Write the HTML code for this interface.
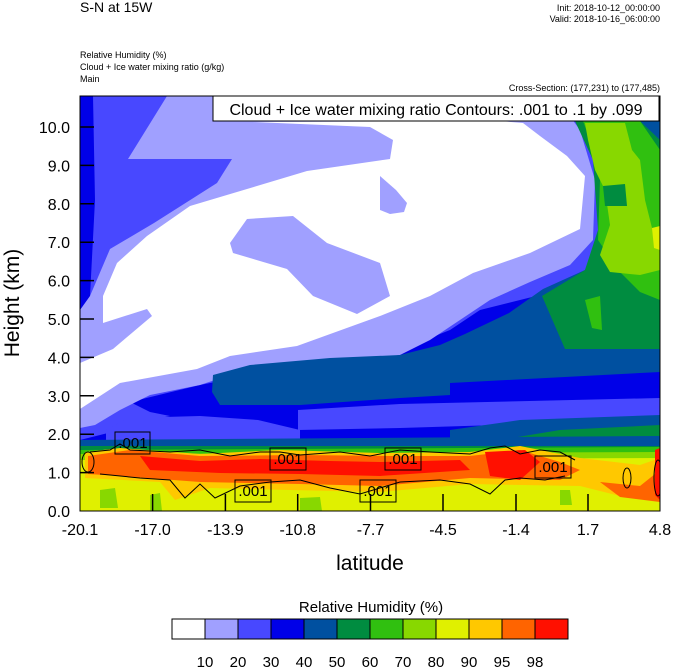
<!DOCTYPE html>
<html><head><style>
body{margin:0;background:#fff;}
svg{display:block;font-family:"Liberation Sans",sans-serif;}
</style></head><body>
<svg width="674" height="668" viewBox="0 0 674 668" xmlns="http://www.w3.org/2000/svg">
<defs><clipPath id="c"><rect x="80" y="96" width="580" height="415"/></clipPath></defs>
<g clip-path="url(#c)">
<rect x="80" y="96" width="580" height="415" fill="#0000e8"/>
<path fill="#4848ff" d="M93,96 L560,96 L600,150 L600,250 L580,290 L540,310 L500,330 L470,345 L430,365 L400,380 L300,395 L250,405 L200,410 L150,420 L120,430 L80,440 L80,330 L90,296 L95,200Z"/>
<path fill="#0000e8" d="M130,402 L200,385 L300,365 L400,350 L450,330 L480,310 L540,295 L660,300 L660,420 L400,418 L300,422 L200,422 L150,412Z"/>
<path fill="#4848ff" d="M106,430 L128,418 L200,416 L258,420 L300,430 L300,443 L106,443Z"/>
<path fill="#a0a0ff" d="M167,96 L555,96 L580,130 L595,180 L593,240 L570,265 L530,282 L490,300 L460,320 L430,340 L400,355 L350,362 L290,366 L230,375 L200,385 L150,395 L120,410 L95,425 L80,428 L80,310 L90,296 L110,249 L154,223 L217,183 L232,159 L128,159Z"/>
<path fill="#fff" d="M253,122 L500,121 L523,123 L540,136 L567,156 L585,176 L580,229 L530,253 L473,273 L430,296 L380,316 L297,346 L230,356 L197,369 L120,383 L80,409 L80,363 L113,349 L152,316 L147,309 L103,323 L103,296 L117,263 L147,236 L190,206 L247,189 L307,171 L390,159 L393,140 L370,127 Z"/>
<path fill="#a0a0ff" d="M233,253 L230,243 L247,219 L293,216 L327,243 L380,263 L390,296 L357,314 L313,296 L287,269Z"/>
<path fill="#a0a0ff" d="M380,176 L396,190 L407,203 L404,212 L390,214 L380,210Z"/>
<path fill="#0050a0" d="M552,96 L660,96 L660,383 L600,385 L520,390 L450,395 L400,398 L300,405 L220,405 L212,392 L213,375 L250,365 L330,358 L400,355 L440,345 L465,334 L509,313 L543,289 L585,270 L600,230 L598,170 L575,118Z"/>
<path fill="#0000e8" d="M450,383 L660,372 L660,392 L450,398Z"/>
<path fill="#4848ff" d="M298,410 L400,404 L660,398 L660,420 L400,428 L298,430Z"/>
<path fill="#0050a0" d="M450,430 L520,420 L660,415 L660,446 L450,446Z"/>
<path fill="#008c40" d="M500,440 L560,430 L660,425 L660,446 L500,446Z"/>
<path fill="#0050a0" d="M80,440 L660,436 L660,448 L80,448Z"/>
<!-- greens right -->
<path fill="#008c40" d="M567,121 L640,121 L660,140 L660,349 L565,349 L542,296 L585,270 L598,230 L593,160 L575,121Z"/>
<path fill="#30c010" d="M583,121 L640,121 L660,150 L660,300 L640,292 L620,272 L598,240 L600,180 L590,140Z"/>
<path fill="#30c010" d="M585,300 L600,296 L602,330 L592,328Z"/>
<path fill="#88d800" d="M585,123 L625,123 L632,150 L640,160 L645,200 L652,228 L660,238 L660,270 L640,275 L610,272 L600,255 L610,225 L605,190 L595,170 L588,140Z"/>
<path fill="#e0f000" d="M652,228 L660,226 L660,250 L654,248Z"/>
<path fill="#008c40" d="M603,186 L625,184 L627,206 L605,206Z"/>
<!-- bottom band -->
<rect x="80" y="446" width="580" height="65" fill="#008c40"/>
<path fill="#30c010" d="M80,450 L660,447 L660,511 L80,511Z"/>
<path fill="#88d800" d="M80,454 L660,452 L660,511 L80,511Z"/>
<path fill="#e0f000" d="M80,460 L660,458 L660,511 L80,511Z"/>
<path fill="#88d800" d="M100,490 L115,488 L118,508 L100,508Z M150,495 L160,493 L162,511 L150,511Z M300,498 L320,497 L322,511 L300,511Z M560,490 L570,490 L572,505 L560,505Z"/>
<path fill="#ffc800" d="M85,452 L120,448 L200,454 L280,450 L380,453 L470,452 L520,446 L580,458 L640,465 L660,458 L660,500 L620,496 L580,486 L470,484 L380,492 L290,490 L210,488 L175,500 L160,482 L85,478Z"/>
<path fill="#ff6400" d="M88,456 L130,450 L200,456 L300,455 L390,456 L470,456 L520,450 L560,462 L580,470 L560,480 L470,478 L380,486 L300,484 L200,482 L120,476 L88,474Z"/>
<path fill="#ff6400" d="M600,482 L640,486 L660,470 L660,502 L620,497Z"/>
<path fill="#ff1000" d="M140,456 L200,461 L260,459 L330,461 L380,462 L460,460 L470,470 L380,476 L300,474 L220,473 L150,470Z"/>
<path fill="#ff1000" d="M485,452 L525,450 L540,462 L520,480 L490,476Z"/>
<path fill="#ff1000" d="M655,450 L660,448 L660,500 L655,495Z"/>
<g fill="none" stroke="#000" stroke-width="1">
<path d="M90,452 L110,450 L120,444 L130,450 L170,452 L200,450 L230,456 L260,452 L280,452 L300,455 L340,452 L370,456 L400,450 L430,452 L470,454 L490,448 L505,446 L520,454 L540,450 L560,452 L575,460"/>
<path d="M100,474 L140,478 L170,480 L185,498 L200,484 L215,498 L240,486 L270,482 L300,480 L330,488 L360,494 L400,482 L440,480 L470,484 L490,494 L505,480 L520,478 L545,480 L565,476"/>
<ellipse cx="88" cy="462" rx="6" ry="10"/><ellipse cx="658" cy="478" rx="4" ry="18"/><ellipse cx="627" cy="478" rx="4" ry="10"/>
</g>
</g>
<rect x="80" y="96" width="580" height="415" fill="none" stroke="#000" stroke-width="1"/>
<g stroke="#000" stroke-width="1" fill="none">
<rect x="115" y="432" width="35" height="22"/>
<rect x="270" y="448" width="36" height="22"/>
<rect x="385" y="448" width="36" height="22"/>
<rect x="535" y="456" width="36" height="22"/>
<rect x="235" y="480" width="36" height="22"/>
<rect x="360" y="480" width="36" height="22"/>
</g>
<g font-size="15" text-anchor="middle" fill="#000">
<text x="133" y="448">.001</text><text x="288" y="464">.001</text><text x="403" y="464">.001</text>
<text x="553" y="472">.001</text><text x="253" y="496">.001</text><text x="378" y="496">.001</text>
</g>
<g stroke="#000" stroke-width="1.5">
<path d="M152.6,511v-17M225.4,511v-17M297.7,511v-17M370.5,511v-17M443,511v-17M516,511v-17M588,511v-17"/>
<path d="M80,472.6h14M80,434.2h14M80,395.8h14M80,357.4h14M80,319h14M80,280.6h14M80,242.2h14M80,203.8h14M80,165.4h14M80,127h14"/>
</g>
<g font-size="16" text-anchor="end">
<text x="70" y="517">0.0</text><text x="70" y="478.6">1.0</text><text x="70" y="440.2">2.0</text><text x="70" y="401.8">3.0</text><text x="70" y="363.4">4.0</text><text x="70" y="325">5.0</text><text x="70" y="286.6">6.0</text><text x="70" y="248.2">7.0</text><text x="70" y="209.8">8.0</text><text x="70" y="171.4">9.0</text><text x="70" y="133">10.0</text>
</g>
<g font-size="16" text-anchor="middle">
<text x="80" y="535">-20.1</text><text x="152.6" y="535">-17.0</text><text x="225.4" y="535">-13.9</text><text x="297.7" y="535">-10.8</text><text x="370.5" y="535">-7.7</text><text x="443" y="535">-4.5</text><text x="516" y="535">-1.4</text><text x="588" y="535">1.7</text><text x="660" y="535">4.8</text>
</g>
<text x="370" y="570" font-size="21" text-anchor="middle">latitude</text>
<text transform="translate(19,303) rotate(-90)" font-size="21" text-anchor="middle">Height (km)</text>
<rect x="213" y="96" width="446" height="25" fill="#fff" stroke="#000" stroke-width="1"/>
<text x="436" y="115" font-size="16" text-anchor="middle">Cloud + Ice water mixing ratio Contours: .001 to .1 by .099</text>
<text x="80" y="12" font-size="14">S-N at 15W</text>
<g font-size="9" text-anchor="end"><text x="660" y="11">Init: 2018-10-12_00:00:00</text><text x="660" y="22">Valid: 2018-10-16_06:00:00</text><text x="660" y="91">Cross-Section: (177,231) to (177,485)</text></g>
<g font-size="9"><text x="80" y="58">Relative Humidity   (%)</text><text x="80" y="70">Cloud + Ice water mixing ratio   (g/kg)</text><text x="80" y="82">Main</text></g>
<text x="371" y="612" font-size="15" text-anchor="middle">Relative Humidity  (%)</text>
<g stroke="#000" stroke-width="1">
<rect x="172" y="619" width="33" height="20" fill="#ffffff"/>
<rect x="205" y="619" width="33" height="20" fill="#a0a0ff"/>
<rect x="238" y="619" width="33" height="20" fill="#4848ff"/>
<rect x="271" y="619" width="33" height="20" fill="#0000e8"/>
<rect x="304" y="619" width="33" height="20" fill="#0050a0"/>
<rect x="337" y="619" width="33" height="20" fill="#008c40"/>
<rect x="370" y="619" width="33" height="20" fill="#30c010"/>
<rect x="403" y="619" width="33" height="20" fill="#88d800"/>
<rect x="436" y="619" width="33" height="20" fill="#e0f000"/>
<rect x="469" y="619" width="33" height="20" fill="#ffc800"/>
<rect x="502" y="619" width="33" height="20" fill="#ff6400"/>
<rect x="535" y="619" width="33" height="20" fill="#ff1000"/>
</g>
<g font-size="15" text-anchor="middle">
<text x="205" y="667">10</text><text x="238" y="667">20</text><text x="271" y="667">30</text><text x="304" y="667">40</text><text x="337" y="667">50</text><text x="370" y="667">60</text><text x="403" y="667">70</text><text x="436" y="667">80</text><text x="469" y="667">90</text><text x="502" y="667">95</text><text x="535" y="667">98</text>
</g>
</svg>
</body></html>
